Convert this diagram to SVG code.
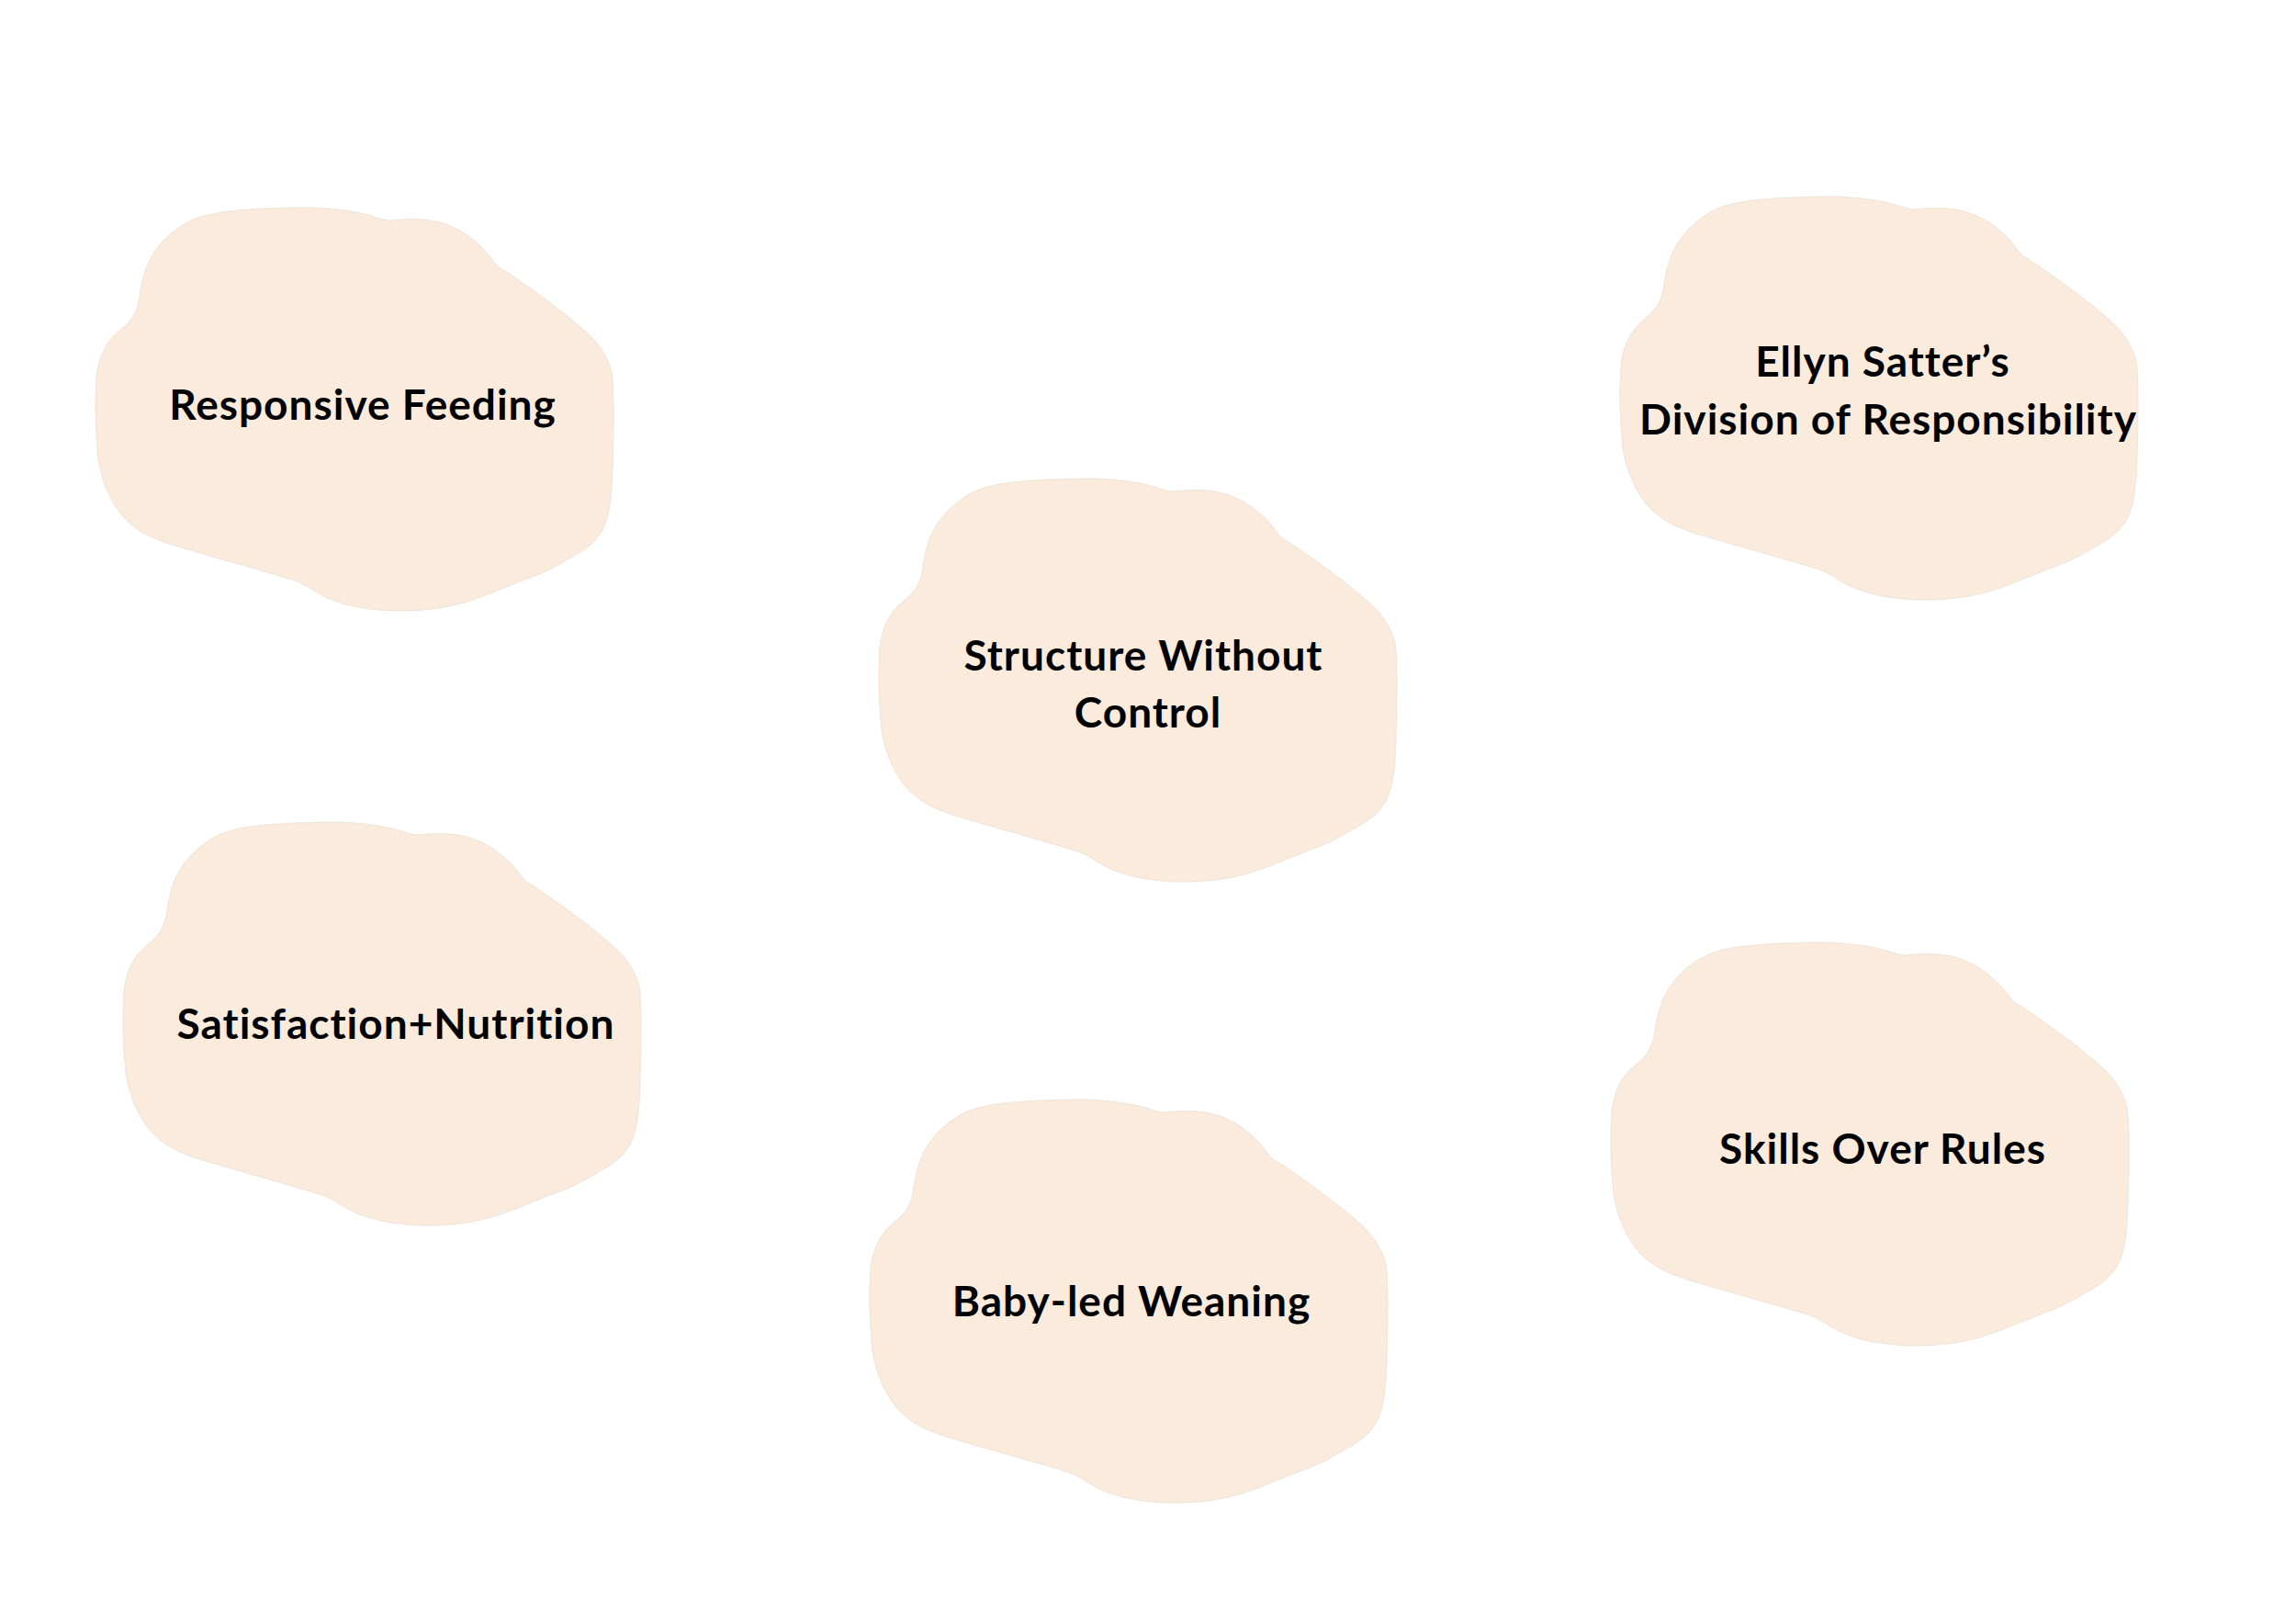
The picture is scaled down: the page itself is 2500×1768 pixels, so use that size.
<svg xmlns="http://www.w3.org/2000/svg" xmlns:xlink="http://www.w3.org/1999/xlink" width="2500" height="1768" viewBox="0 0 2500 1768">
<style>
.blob{fill:#FAEBDC;stroke:#e8dfd5;stroke-width:0.8}
.lbl{font-family:"Lato","Open Sans","Liberation Sans",sans-serif;font-weight:700;font-size:46px;letter-spacing:1px;fill:#000;text-anchor:middle}
</style>
<defs>
<path id="blob" d="M240 16 C270 16 300 20 321 27 C327 29 330 30 336 30 C345 29 358 28 370 29 C400 31 425 46 444 70 C448 76 452 81 460 85 C480 98 518 125 542 146 C559 160 571 175 576 195 C579 215 578 260 577 300 C576 330 574 352 566 367 C558 380 551 386 537 394 C518 405 503 414 484 420 C469 426 459 430 449 434 C420 446 390 456 337 455 C300 453 275 447 255 435 C245 429 238 424 228 421 C185 408 140 396 97 383 C72 375 55 366 42 350 C28 332 20 310 17 290 C14 260 13 230 15 200 C17 180 25 162 40 150 C52 141 58 132 61 118 C63 105 65 90 72 75 C82 55 98 40 118 30 C140 20 175 17 240 16 Z"/>
</defs>
<rect width="2500" height="1768" fill="#ffffff"/>
<g id="connectors"></g>
<g id="node-responsive-feeding">
<use xlink:href="#blob" href="#blob" class="blob" transform="translate(90,210)"/>
<text class="lbl" x="395" y="457">Responsive Feeding</text>
</g>
<g id="node-ellyn-satter">
<use xlink:href="#blob" href="#blob" class="blob" transform="translate(1750,198)"/>
<text class="lbl" x="2050" y="410">Ellyn Satter’s</text>
<text class="lbl" x="2056" y="473">Division of Responsibility</text>
</g>
<g id="node-structure-without-control">
<use xlink:href="#blob" href="#blob" class="blob" transform="translate(943,505)"/>
<text class="lbl" x="1245" y="730">Structure Without</text>
<text class="lbl" x="1250" y="792">Control</text>
</g>
<g id="node-satisfaction-nutrition">
<use xlink:href="#blob" href="#blob" class="blob" transform="translate(120,879)"/>
<text class="lbl" x="431" y="1131">Satisfaction+Nutrition</text>
</g>
<g id="node-baby-led-weaning">
<use xlink:href="#blob" href="#blob" class="blob" transform="translate(933,1181)"/>
<text class="lbl" x="1232" y="1433">Baby-led Weaning</text>
</g>
<g id="node-skills-over-rules">
<use xlink:href="#blob" href="#blob" class="blob" transform="translate(1740,1010)"/>
<text class="lbl" x="2050" y="1267">Skills Over Rules</text>
</g>
</svg>
